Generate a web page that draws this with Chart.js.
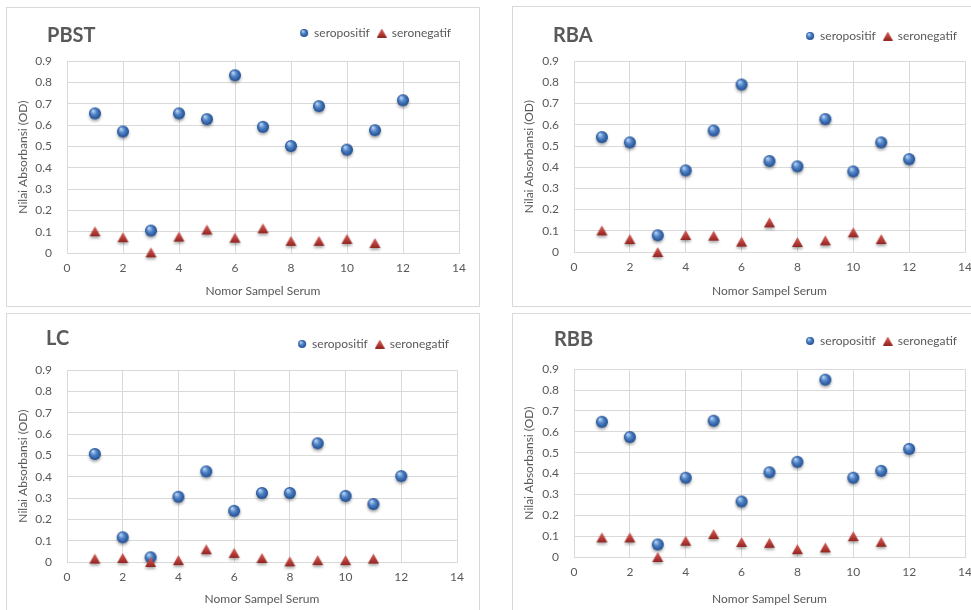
<!DOCTYPE html>
<html>
<head>
<meta charset="utf-8">
<script src="https://cdn.jsdelivr.net/npm/chart.js@4.4.1/dist/chart.umd.min.js"></script>
<style>
  body { margin: 0; background: #fff; width: 971px; height: 610px; overflow: hidden; position: relative; }
  .panel { position: absolute; border: 1px solid #d9d9d9; background: #fff; }
  .panel canvas { display: block; }
</style>
</head>
<body>
<div class="panel" style="left:6px;top:7px"><canvas id="pbst" width="472" height="298"></canvas></div>
<div class="panel" style="left:512px;top:6px"><canvas id="rba" width="472" height="299"></canvas></div>
<div class="panel" style="left:6px;top:313px"><canvas id="lc" width="472" height="300"></canvas></div>
<div class="panel" style="left:512px;top:313px"><canvas id="rbb" width="472" height="300"></canvas></div>
<script>
// sample numbers (x axis)
var sampleNo = [1, 2, 3, 4, 5, 6, 7, 8, 9, 10, 11, 12];

// PBST
var pbstPos = [0.655, 0.57, 0.105, 0.655, 0.628, 0.834, 0.592, 0.502, 0.689, 0.485, 0.576, 0.717];
var pbstNeg = [0.102, 0.074, 0.003, 0.077, 0.11, 0.072, 0.116, 0.057, 0.057, 0.066, 0.047];
// RBA
var rbaPos = [0.542, 0.517, 0.079, 0.385, 0.573, 0.79, 0.429, 0.404, 0.627, 0.38, 0.517, 0.438];
var rbaNeg = [0.102, 0.061, 0.0, 0.08, 0.077, 0.049, 0.14, 0.047, 0.055, 0.093, 0.061];
// LC
var lcPos = [0.507, 0.116, 0.022, 0.306, 0.425, 0.24, 0.324, 0.324, 0.557, 0.31, 0.272, 0.403];
var lcNeg = [0.016, 0.019, 0.0, 0.009, 0.06, 0.043, 0.019, 0.003, 0.009, 0.009, 0.016];
// RBB
var rbbPos = [0.648, 0.575, 0.06, 0.38, 0.653, 0.266, 0.406, 0.456, 0.85, 0.38, 0.413, 0.518];
var rbbNeg = [0.094, 0.094, 0.0, 0.078, 0.11, 0.072, 0.068, 0.038, 0.046, 0.1, 0.073];

var seriesNames = ['seropositif', 'seronegatif'];
var xTitle = 'Nomor Sampel Serum';
var yTitle = 'Nilai Absorbansi (OD)';

var grey = '#595959';
var gridGrey = '#d9d9d9';
var font = 'Lato, "Liberation Sans", sans-serif';

// little shaded ball with a soft shadow, like the excel 3d marker
function sphere(d, shadow) {
    var pad = shadow ? 5 : 1;
    var c = document.createElement('canvas');
    c.width = d + pad * 2; c.height = d + pad * 2;
    var g = c.getContext('2d');
    var r = d / 2, cx = r + pad, cy = r + pad;
    if (shadow) {
        g.shadowColor = 'rgba(0,0,0,0.35)';
        g.shadowBlur = 3;
        g.shadowOffsetY = 2;
    }
    var grad = g.createRadialGradient(cx - r * 0.35, cy - r * 0.45, r * 0.1, cx, cy, r);
    grad.addColorStop(0, '#b4d0f2');
    grad.addColorStop(0.45, '#4f82c6');
    grad.addColorStop(1, '#1f4d8f');
    g.fillStyle = grad;
    g.beginPath();
    g.arc(cx, cy, r, 0, Math.PI * 2);
    g.fill();
    return c;
}

function triangle(w, h, shadow) {
    var pad = shadow ? 5 : 0;
    var c = document.createElement('canvas');
    c.width = w + pad * 2; c.height = h + pad * 2;
    var g = c.getContext('2d');
    if (shadow) {
        g.shadowColor = 'rgba(0,0,0,0.35)';
        g.shadowBlur = 3;
        g.shadowOffsetY = 2;
    }
    var grad = g.createLinearGradient(0, pad, 0, pad + h);
    grad.addColorStop(0, '#d5605a');
    grad.addColorStop(0.6, '#b63a35');
    grad.addColorStop(1, '#8e2622');
    g.fillStyle = grad;
    g.beginPath();
    g.moveTo(pad + w / 2, pad);
    g.lineTo(pad + w, pad + h);
    g.lineTo(pad, pad + h);
    g.closePath();
    g.fill();
    return c;
}

var ball = sphere(12, true);
var tri = triangle(11, 10, true);
var legendMarks = [sphere(8, false), triangle(10, 9, false)];

// bold panel name in the top left corner
var cornerTitle = {
    id: 'cornerTitle',
    afterDraw: function(chart, args, opts) {
        var ctx = chart.ctx;
        ctx.save();
        ctx.font = 'bold 20px ' + font;
        ctx.fillStyle = grey;
        ctx.textBaseline = 'middle';
        ctx.fillText(opts.text, opts.x, opts.y);
        ctx.restore();
    }
};

function points(values) {
    return values.map(function(v, i) { return { x: sampleNo[i], y: v }; });
}

function makeChart(id, name, pos, neg, g) {
    var ctx = document.getElementById(id).getContext('2d');
    var data = {
        datasets: [
            { label: seriesNames[0], data: points(pos), pointStyle: ball, backgroundColor: '#4f81bd', borderColor: '#4f81bd', clip: false, order: 1 },
            { label: seriesNames[1], data: points(neg), pointStyle: tri, backgroundColor: '#c0504d', borderColor: '#c0504d', clip: false, order: 0 }
        ]
    };
    var options = {
        responsive: false,
        animation: false,
        layout: { padding: { left: 0, right: g.right, top: g.top, bottom: 0 } },
        plugins: {
            legend: {
                display: true,
                position: 'top',
                align: 'end',
                labels: {
                    usePointStyle: true,
                    boxWidth: 8,
                    boxHeight: 8,
                    color: grey,
                    font: { family: font, size: 12 },
                    padding: 8,
                    generateLabels: function(chart) {
                        var items = Chart.defaults.plugins.legend.labels.generateLabels(chart);
                        items.sort(function(a, b) { return a.datasetIndex - b.datasetIndex; });
                        items.forEach(function(it) { it.pointStyle = legendMarks[it.datasetIndex]; });
                        return items;
                    }
                }
            },
            // empty title used only as a gap between legend and plot
            title: { display: true, text: '', weight: 500, font: { size: 1 }, padding: { top: 0, bottom: g.gap } },
            tooltip: { enabled: false },
            cornerTitle: { text: name, x: g.tx, y: g.ty }
        },
        scales: {
            x: {
                type: 'linear',
                min: 0,
                max: 14,
                ticks: { stepSize: 2, color: grey, font: { family: font, size: 12 }, padding: 8 },
                grid: { color: gridGrey, drawTicks: false },
                border: { color: gridGrey },
                title: { display: true, text: xTitle, color: grey, font: { family: font, size: 12 }, padding: { top: 4, bottom: 8 } },
                afterFit: function(s) { s.height = g.xh; }
            },
            y: {
                min: 0,
                max: 0.9,
                ticks: {
                    stepSize: 0.1,
                    color: grey,
                    font: { family: font, size: 12 },
                    padding: 15,
                    callback: function(v) { return String(Math.round(v * 10) / 10); }
                },
                grid: { color: gridGrey, drawTicks: false },
                border: { color: gridGrey },
                title: { display: true, text: yTitle, color: grey, font: { family: font, size: 12 }, padding: { top: 9, bottom: 4 } },
                afterFit: function(s) { s.width = g.yw; }
            }
        }
    };
    return new Chart(ctx, { type: 'scatter', data: data, options: options, plugins: [cornerTitle] });
}

makeChart('pbst', 'PBST', pbstPos, pbstNeg, { right: 20, top: 11, gap: 11, xh: 53, yw: 60, tx: 40, ty: 28 });
makeChart('rba', 'RBA', rbaPos, rbaNeg, { right: 20, top: 15, gap: 8, xh: 54, yw: 61, tx: 40, ty: 29 });
makeChart('lc', 'LC', lcPos, lcNeg, { right: 22, top: 16, gap: 9, xh: 52, yw: 60, tx: 39, ty: 25 });
makeChart('rbb', 'RBB', rbbPos, rbbNeg, { right: 20, top: 13, gap: 11, xh: 57, yw: 61, tx: 41, ty: 26 });
</script>
</body>
</html>
